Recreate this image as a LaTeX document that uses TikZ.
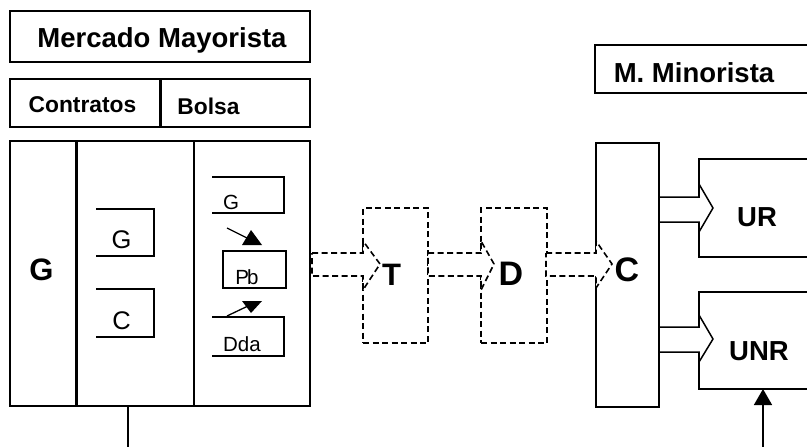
\documentclass[tikz,border=0pt]{standalone}
\usepackage{fontspec}
\setmainfont{Liberation Sans}
\usetikzlibrary{arrows.meta}
\tikzset{
  box/.style={draw, line width=1.5pt, inner sep=0pt, outer sep=0pt, anchor=north west},
  txt/.style={inner sep=0pt, outer sep=0pt, anchor=base},
  big/.style={txt, font=\fontsize{27.5}{30}\selectfont\bfseries},
  mid/.style={txt, font=\fontsize{22.8}{26}\selectfont\bfseries},
  huge/.style={txt, font=\fontsize{31}{34}\selectfont\bfseries},
  huger/.style={txt, font=\fontsize{34}{37}\selectfont\bfseries},
  small/.style={txt, font=\fontsize{25.5}{28}\selectfont},
  tiny/.style={txt, font=\fontsize{20.5}{23}\selectfont},
  openbox/.style={line width=1.3pt},
  dashedbox/.style={draw, line width=1.6pt, dash pattern=on 6pt off 3.5pt, inner sep=0pt, outer sep=0pt, anchor=north west},
  dasharrow/.style={line width=1.6pt, dash pattern=on 6pt off 3.5pt, fill=white},
  solidarrow/.style={line width=1.5pt, fill=white},
}
\begin{document}
\begin{tikzpicture}[x=1pt,y=-1pt]
\useasboundingbox (0,0) rectangle (807,447);
\clip (0,0) rectangle (807,447);
\fill[white] (0,0) rectangle (807,447);

% Mercado Mayorista header
\node[box, minimum width=300pt, minimum height=51pt] (mm) at (10,11) {};
\node[big] (mmt) at (162,47) {Mercado Mayorista};

% Contratos / Bolsa
\node[box, minimum width=150pt, minimum height=48pt] (contr) at (10,79) {};
\node[box, minimum width=150pt, minimum height=48pt] (bolsa) at (160,79) {};
\draw[line width=3pt] (contr.north east) -- (contr.south east);
\node[mid] (contrt) at (82.5,112) {Contratos};
\node[mid] (bolsat) at (208.5,114) {Bolsa};

% Big box
\node[box, minimum width=66pt, minimum height=265pt] (gcol) at (10,141) {};
\node[box, minimum width=118pt, minimum height=265pt] (ccol) at (76,141) {};
\node[box, minimum width=116pt, minimum height=265pt] (bcol) at (194,141) {};
\draw[line width=3pt] (gcol.north east) -- (gcol.south east);
\node[huge] (gbig) at (41.5,280) {G};

% Contratos column boxes (open on the left)
\coordinate (cg1) at (96,209); \coordinate (cg2) at (154,256);
\draw[openbox] (cg1) -- (cg2 |- cg1) -- (cg2) -- (cg1 |- cg2);
\node[small] (cgt) at (121.5,248) {G};
\coordinate (cc1) at (96,289); \coordinate (cc2) at (154,337);
\draw[openbox] (cc1) -- (cc2 |- cc1) -- (cc2) -- (cc1 |- cc2);
\node[small] (cct) at (121.5,329) {C};

% Bolsa column
\coordinate (bg1) at (212,177); \coordinate (bg2) at (284,213);
\draw[openbox] (bg1) -- (bg2 |- bg1) -- (bg2) -- (bg1 |- bg2);
\node[tiny] (bgt) at (231,209) {G};
\node[draw, line width=1.3pt, inner sep=0pt, outer sep=0pt, minimum width=63pt, minimum height=37pt, anchor=north west] (pb) at (223,251) {};
\node[tiny] (pbt) at (247,284) {P\kern-2pt b};
\coordinate (bd1) at (212,317); \coordinate (bd2) at (284,356);
\draw[openbox] (bd1) -- (bd2 |- bd1) -- (bd2) -- (bd1 |- bd2);
\node[tiny] (bdt) at (242,351) {Dda};

% small arrows to Pb
\coordinate (a1s) at (227,228); \coordinate (a1e) at (249,239);
\draw[line width=1.3pt] (a1s) -- (a1e);
\fill (242,245) -- (262,245) -- (251,230) -- cycle;
\coordinate (a2s) at (227,316); \coordinate (a2e) at (248,306);
\draw[line width=1.3pt] (a2s) -- (a2e);
\fill (242,301) -- (262,301) -- (251,313) -- cycle;

% T and D dashed boxes
\node[dashedbox, minimum width=65pt, minimum height=135pt] (tbox) at (363,208) {};
\node[dashedbox, minimum width=66pt, minimum height=135pt] (dbox) at (481,208) {};

% C box (retail)
\node[box, minimum width=63pt, minimum height=264pt] (cbox) at (596,143) {};

% M. Minorista
\node[box, minimum width=230pt, minimum height=48pt] (mmin) at (595,45) {};
\node[big] (mmint) at (694,82) {M. Minorista};

% UR / UNR boxes
\node[box, minimum width=120pt, minimum height=98pt] (ur) at (699,159) {};
\node[box, minimum width=120pt, minimum height=97pt] (unr) at (699,292) {};

% dashed block arrows
\draw[dasharrow] (312,253) -- (363,253) -- (363,241) -- (380,264) -- (363,290) -- (363,276) -- (312,276) -- cycle;
\draw[dasharrow] (428,253) -- (481,253) -- (481,241) -- (494,264) -- (481,290) -- (481,276) -- (428,276) -- cycle;
\draw[dasharrow] (546,253) -- (596,253) -- (596,241) -- (612,264) -- (596,288) -- (596,276) -- (546,276) -- cycle;

% solid block arrows
\draw[solidarrow] (659,197) -- (699,197) -- (699,184) -- (713,208) -- (699,232) -- (699,222) -- (659,222) -- cycle;
\draw[solidarrow] (659,327) -- (699,327) -- (699,315) -- (713,339) -- (699,362) -- (699,352) -- (659,352) -- cycle;

% labels
\node[huge] (tt) at (391.5,285) {T};
\node[huger] (dt) at (511,285) {D};
\node[huger] (ct) at (627,281) {C};
\node[big] (urt) at (757,226) {UR};
\node[big] (unrt) at (759,360) {UNR};

% bottom connectors
\coordinate (bot1) at (128,447);
\draw[line width=1.5pt] (ccol.south) ++(-7,0) -- (bot1);
\coordinate (bot2) at (763,447);
\draw[line width=1.5pt, -{Triangle[length=16pt, width=18pt]}] (bot2) -- (unr.south west -| bot2);
\end{tikzpicture}
\end{document}
